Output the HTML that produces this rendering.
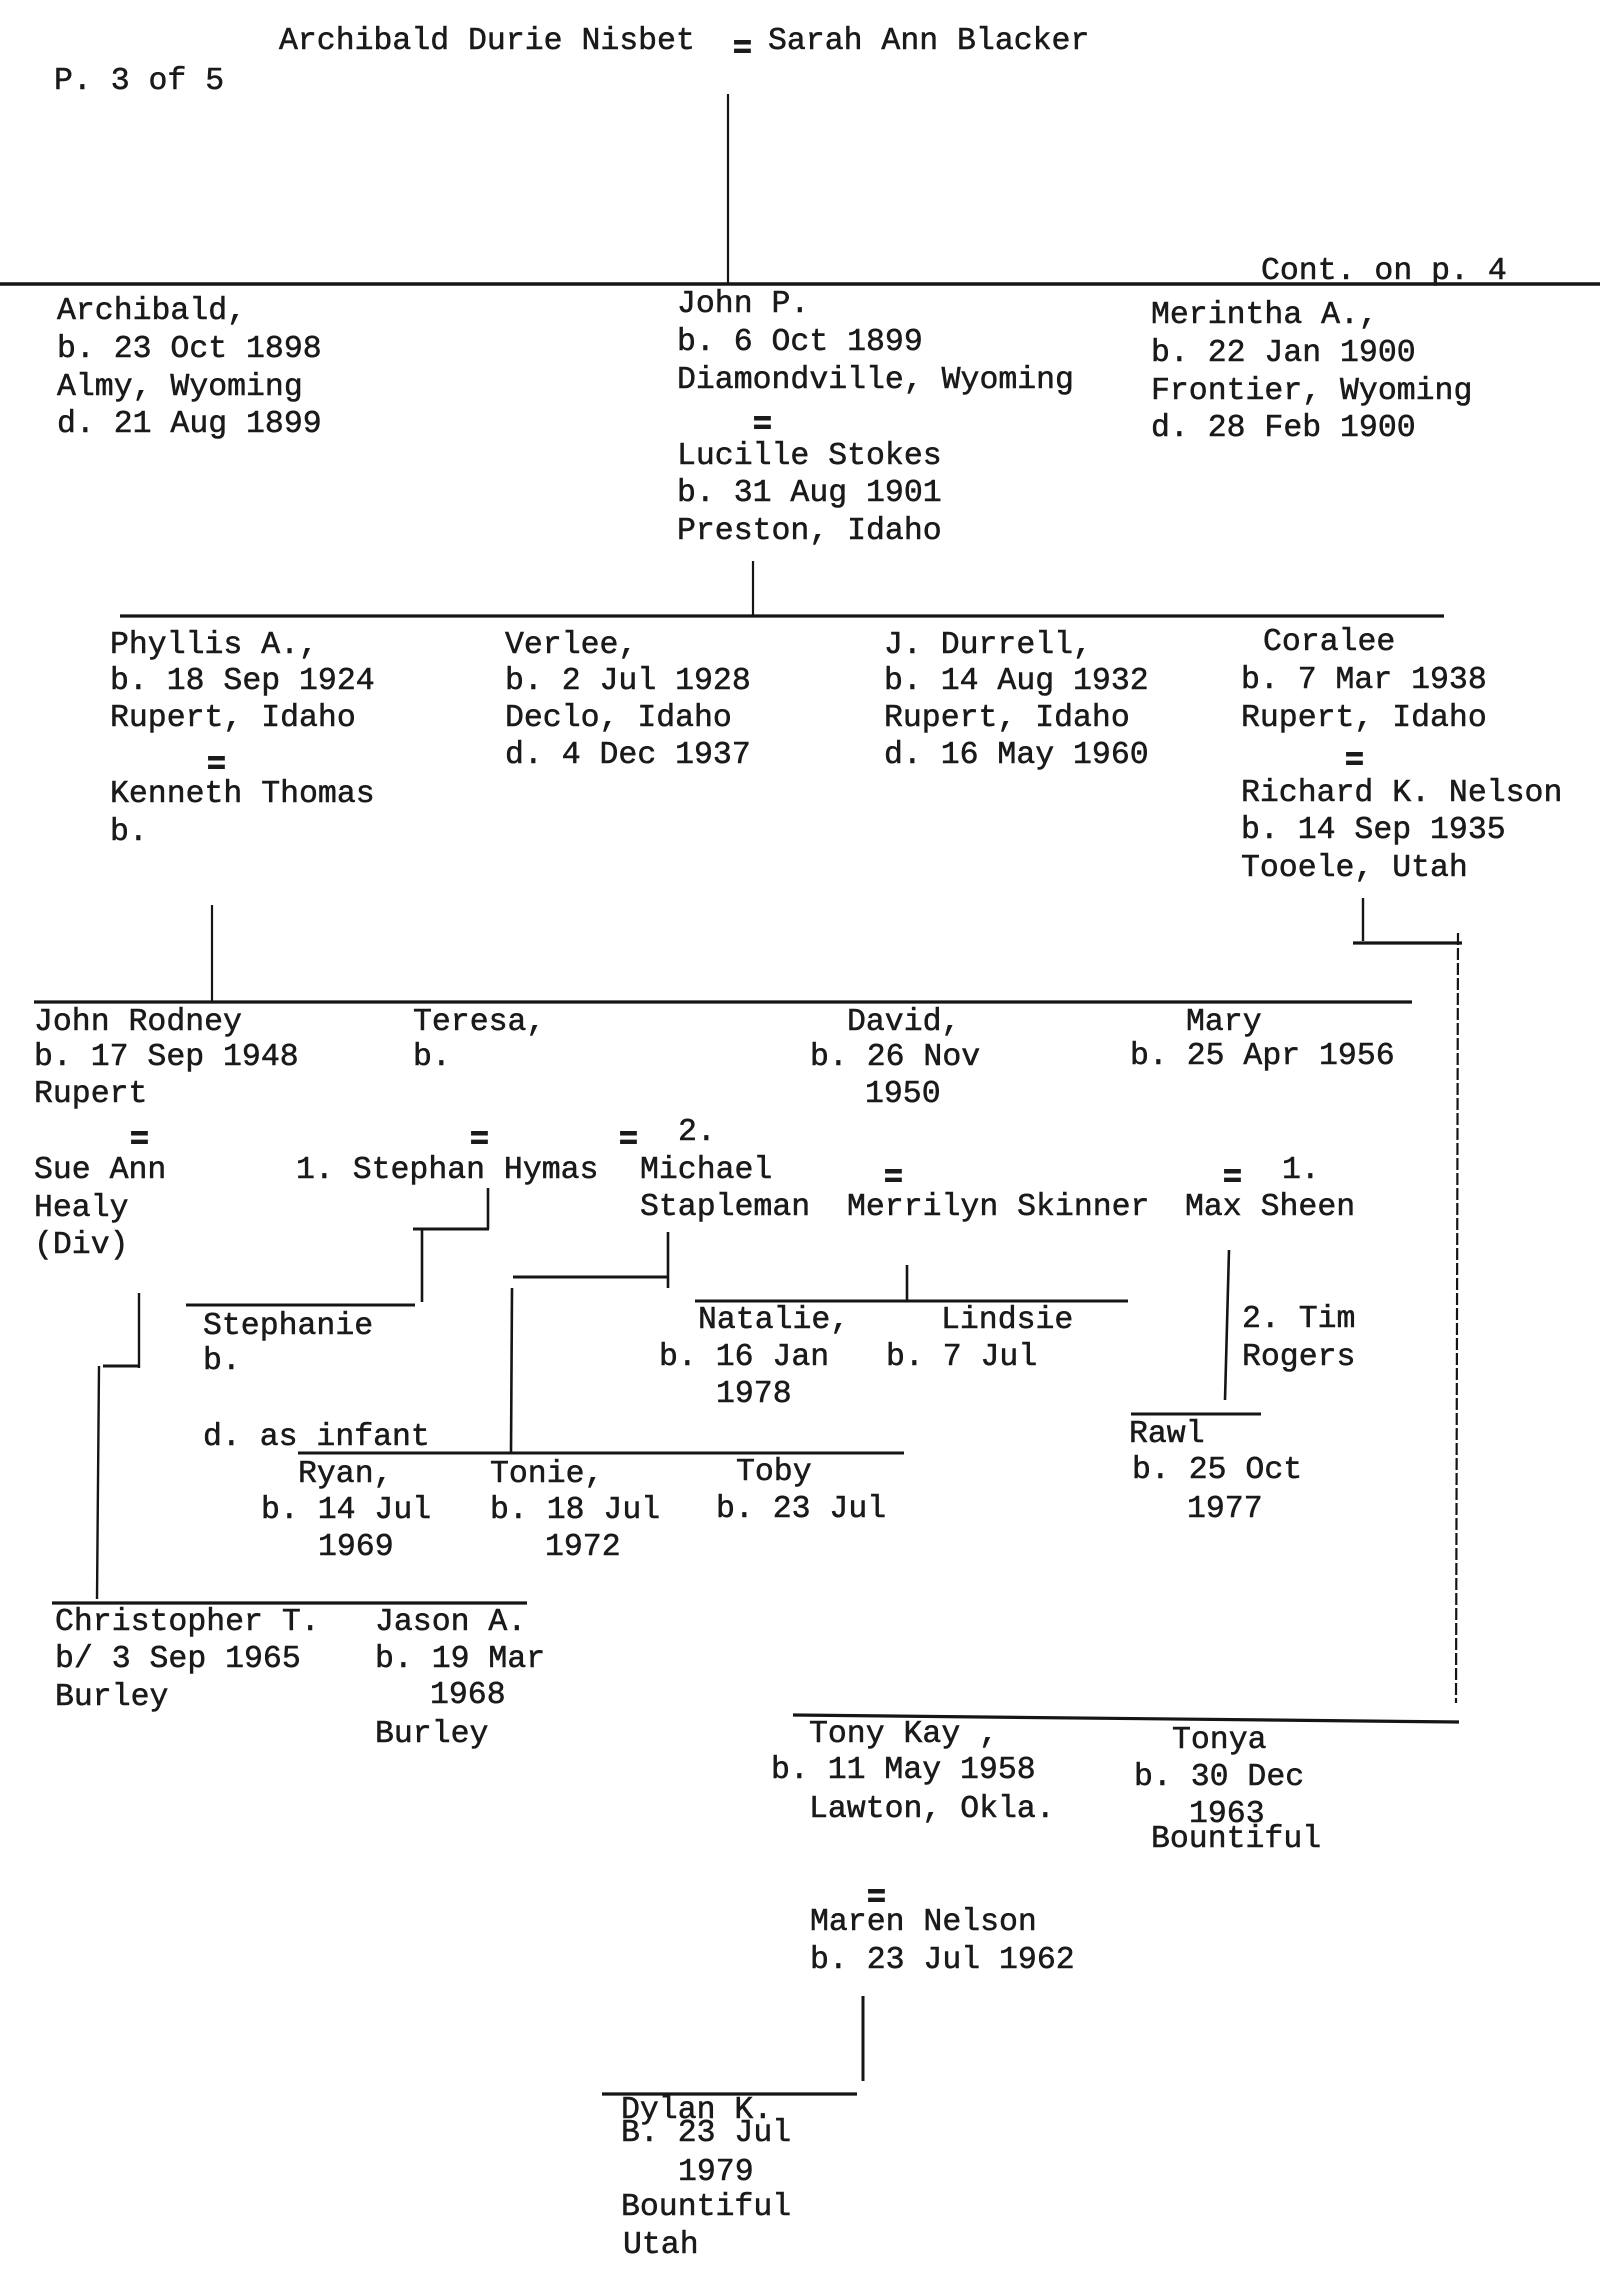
<!DOCTYPE html>
<html>
<head>
<meta charset="utf-8">
<style>
  html, body { margin:0; padding:0; background:#ffffff; }
  body { width:1600px; height:2288px; overflow:hidden; }
  svg { display:block; }
  text { font-family:"Liberation Mono", "DejaVu Sans Mono", monospace; font-size:31.5px; fill:#1a1a1a; stroke:#1a1a1a; stroke-width:0.55px; }
  text.eq { font-weight:bold; stroke-width:1px; }
  line { stroke:#151515; stroke-linecap:butt; }
</style>
</head>
<body>
<svg width="1600" height="2288" viewBox="0 0 1600 2288" xmlns="http://www.w3.org/2000/svg">
  <!-- ===== Connectors ===== -->
  <line x1="728" y1="94" x2="728" y2="284" stroke-width="2.2"/>
  <line x1="0" y1="284" x2="1600" y2="284" stroke-width="3.5"/>

  <line x1="753" y1="561" x2="753" y2="617" stroke-width="2.2"/>
  <line x1="120" y1="616" x2="1444" y2="616" stroke-width="3.2"/>

  <line x1="212" y1="905" x2="212" y2="1002" stroke-width="2.2"/>
  <line x1="34" y1="1002" x2="1412" y2="1002" stroke-width="3.2"/>

  <line x1="1363" y1="898" x2="1363" y2="941" stroke-width="2.4"/>
  <line x1="1353" y1="943" x2="1462" y2="943" stroke-width="3.2"/>
  <line x1="1458" y1="933" x2="1456" y2="1703" stroke-width="2.2" stroke-dasharray="12 3"/>
  <line x1="793" y1="1715" x2="1459" y2="1722" stroke-width="3.2"/>

  <!-- Stephan -> Stephanie -->
  <line x1="488" y1="1188" x2="488" y2="1229" stroke-width="2.6"/>
  <line x1="413" y1="1229" x2="489" y2="1229" stroke-width="3"/>
  <line x1="422" y1="1229" x2="422" y2="1302" stroke-width="2.6"/>
  <line x1="186" y1="1305" x2="415" y2="1305" stroke-width="3"/>

  <!-- Michael -> Ryan/Tonie/Toby -->
  <line x1="668" y1="1232" x2="668" y2="1288" stroke-width="2.6"/>
  <line x1="513" y1="1277" x2="668" y2="1277" stroke-width="3"/>
  <line x1="512" y1="1288" x2="511" y2="1453" stroke-width="2.6"/>
  <line x1="298" y1="1453" x2="904" y2="1453" stroke-width="3"/>

  <!-- Merrilyn -> Natalie/Lindsie -->
  <line x1="907" y1="1265" x2="907" y2="1302" stroke-width="2.6"/>
  <line x1="695" y1="1301" x2="1128" y2="1301" stroke-width="3"/>

  <!-- Max/Tim -> Rawl -->
  <line x1="1229" y1="1250" x2="1225" y2="1400" stroke-width="2.6"/>
  <line x1="1131" y1="1414" x2="1261" y2="1414" stroke-width="3"/>

  <!-- Sue Ann -> Christopher/Jason -->
  <line x1="139" y1="1293" x2="139" y2="1368" stroke-width="2.4"/>
  <line x1="103" y1="1366" x2="140" y2="1366" stroke-width="3"/>
  <line x1="99" y1="1366" x2="97" y2="1599" stroke-width="2.4"/>
  <line x1="52" y1="1603" x2="527" y2="1603" stroke-width="3.2"/>

  <!-- Maren -> Dylan -->
  <line x1="863" y1="1996" x2="863" y2="2081" stroke-width="3"/>
  <line x1="602" y1="2094" x2="857" y2="2094" stroke-width="3.2"/>

  <!-- ===== Header ===== -->
  <text x="54" y="89">P. 3 of 5</text>
  <text x="279" y="49">Archibald Durie Nisbet</text>
  <text class="eq" x="733" y="57">=</text>
  <text x="768" y="49">Sarah Ann Blacker</text>
  <text x="1261" y="279">Cont. on p. 4</text>

  <!-- ===== Generation 1 ===== -->
  <text x="57" y="319">Archibald,</text>
  <text x="57" y="357">b. 23 Oct 1898</text>
  <text x="57" y="395">Almy, Wyoming</text>
  <text x="57" y="432">d. 21 Aug 1899</text>

  <text x="677" y="312">John P.</text>
  <text x="677" y="350">b. 6 Oct 1899</text>
  <text x="677" y="388">Diamondville, Wyoming</text>
  <text class="eq" x="753" y="433">=</text>
  <text x="677" y="464">Lucille Stokes</text>
  <text x="677" y="501">b. 31 Aug 1901</text>
  <text x="677" y="539">Preston, Idaho</text>

  <text x="1151" y="323">Merintha A.,</text>
  <text x="1151" y="361">b. 22 Jan 1900</text>
  <text x="1151" y="399">Frontier, Wyoming</text>
  <text x="1151" y="436">d. 28 Feb 1900</text>

  <!-- ===== Generation 2 ===== -->
  <text x="110" y="653">Phyllis A.,</text>
  <text x="110" y="689">b. 18 Sep 1924</text>
  <text x="110" y="726">Rupert, Idaho</text>
  <text class="eq" x="207" y="773">=</text>
  <text x="110" y="802">Kenneth Thomas</text>
  <text x="110" y="840">b.</text>

  <text x="505" y="653">Verlee,</text>
  <text x="505" y="689">b. 2 Jul 1928</text>
  <text x="505" y="726">Declo, Idaho</text>
  <text x="505" y="763">d. 4 Dec 1937</text>

  <text x="884" y="653">J. Durrell,</text>
  <text x="884" y="689">b. 14 Aug 1932</text>
  <text x="884" y="726">Rupert, Idaho</text>
  <text x="884" y="763">d. 16 May 1960</text>

  <text x="1263" y="650">Coralee</text>
  <text x="1241" y="688">b. 7 Mar 1938</text>
  <text x="1241" y="726">Rupert, Idaho</text>
  <text class="eq" x="1345" y="769">=</text>
  <text x="1241" y="801">Richard K. Nelson</text>
  <text x="1241" y="838">b. 14 Sep 1935</text>
  <text x="1241" y="876">Tooele, Utah</text>

  <!-- ===== Generation 3 ===== -->
  <text x="34" y="1030">John Rodney</text>
  <text x="34" y="1065">b. 17 Sep 1948</text>
  <text x="34" y="1102">Rupert</text>
  <text class="eq" x="130" y="1148">=</text>
  <text x="34" y="1178">Sue Ann</text>
  <text x="34" y="1216">Healy</text>
  <text x="34" y="1253">(Div)</text>

  <text x="413" y="1030">Teresa,</text>
  <text x="413" y="1065">b.</text>
  <text class="eq" x="470" y="1148">=</text>
  <text x="296" y="1178">1. Stephan Hymas</text>
  <text class="eq" x="619" y="1148">=</text>
  <text x="678" y="1140">2.</text>
  <text x="640" y="1178">Michael</text>
  <text x="640" y="1215">Stapleman</text>

  <text x="847" y="1030">David,</text>
  <text x="810" y="1065">b. 26 Nov</text>
  <text x="865" y="1102">1950</text>
  <text class="eq" x="884" y="1186">=</text>
  <text x="847" y="1215">Merrilyn Skinner</text>

  <text x="1186" y="1030">Mary</text>
  <text x="1130" y="1064">b. 25 Apr 1956</text>
  <text class="eq" x="1223" y="1186">=</text>
  <text x="1282" y="1178">1.</text>
  <text x="1185" y="1215">Max Sheen</text>

  <!-- ===== Generation 4 ===== -->
  <text x="203" y="1334">Stephanie</text>
  <text x="203" y="1369">b.</text>
  <text x="203" y="1445">d. as infant</text>

  <text x="698" y="1328">Natalie,</text>
  <text x="659" y="1365">b. 16 Jan</text>
  <text x="716" y="1402">1978</text>
  <text x="941" y="1328">Lindsie</text>
  <text x="886" y="1365">b. 7 Jul</text>

  <text x="1242" y="1327">2. Tim</text>
  <text x="1242" y="1365">Rogers</text>

  <text x="1129" y="1442">Rawl</text>
  <text x="1132" y="1478">b. 25 Oct</text>
  <text x="1187" y="1517">1977</text>

  <text x="298" y="1482">Ryan,</text>
  <text x="261" y="1518">b. 14 Jul</text>
  <text x="318" y="1555">1969</text>
  <text x="490" y="1482">Tonie,</text>
  <text x="490" y="1518">b. 18 Jul</text>
  <text x="545" y="1555">1972</text>
  <text x="736" y="1480">Toby</text>
  <text x="716" y="1517">b. 23 Jul</text>

  <text x="55" y="1630">Christopher T.</text>
  <text x="55" y="1667">b/ 3 Sep 1965</text>
  <text x="55" y="1705">Burley</text>
  <text x="375" y="1630">Jason A.</text>
  <text x="375" y="1667">b. 19 Mar</text>
  <text x="430" y="1703">1968</text>
  <text x="375" y="1742">Burley</text>

  <text x="809" y="1742">Tony Kay ,</text>
  <text x="771" y="1778">b. 11 May 1958</text>
  <text x="809" y="1817">Lawton, Okla.</text>

  <text x="1172" y="1748">Tonya</text>
  <text x="1134" y="1785">b. 30 Dec</text>
  <text x="1189" y="1822">1963</text>
  <text x="1151" y="1847">Bountiful</text>

  <text class="eq" x="867" y="1906">=</text>
  <text x="810" y="1930">Maren Nelson</text>
  <text x="810" y="1968">b. 23 Jul 1962</text>

  <text x="621" y="2118">Dylan K.</text>
  <text x="621" y="2141">B. 23 Jul</text>
  <text x="678" y="2180">1979</text>
  <text x="621" y="2215">Bountiful</text>
  <text x="623" y="2253">Utah</text>
</svg>
</body>
</html>
